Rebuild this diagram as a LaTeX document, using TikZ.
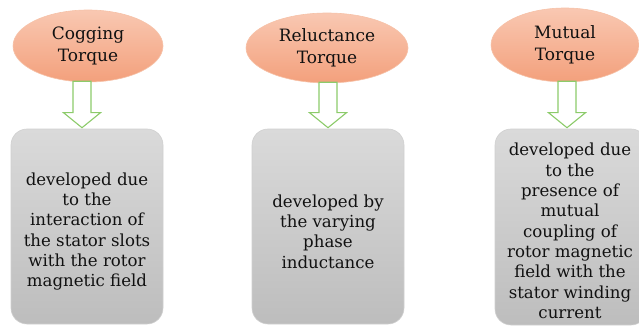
\documentclass[tikz,border=0pt]{standalone}
\usepackage{fontspec}
\setmainfont{DejaVu Serif}
\usetikzlibrary{shapes.geometric,calc}
\definecolor{elltop}{HTML}{F9C8B2}
\definecolor{ellbot}{HTML}{F3A07C}
\definecolor{ellline}{HTML}{F6C2A8}
\definecolor{boxtop}{HTML}{DADADA}
\definecolor{boxbot}{HTML}{BDBDBD}
\definecolor{boxline}{HTML}{D0D0D0}
\definecolor{arrgreen}{HTML}{8CCB6A}
\definecolor{txt}{HTML}{111111}
\begin{document}
\begin{tikzpicture}[x=1pt,y=-1pt,
  torque/.style={ellipse, inner sep=0pt, top color=elltop, bottom color=ellbot,
    draw=ellline, line width=0.6pt, align=center,
    font=\rmfamily\fontsize{17}{22}\selectfont, text=txt},
  descbox/.style={rectangle, rounded corners=16pt, top color=boxtop, bottom color=boxbot,
    draw=boxline, line width=0.6pt, inner sep=0pt},
  desctext/.style={align=center, font=\rmfamily\fontsize{16.6}{20.3}\selectfont, text=txt, inner sep=0pt},
  blockarrow/.style={draw=arrgreen, fill=white, line width=1.1pt, line join=miter}]
\useasboundingbox (0,0) rectangle (639,326);
\clip (0,0) rectangle (639,326);
% ellipses
\node[torque, minimum width=150pt, minimum height=72pt] (e1) at (88,46) {Cogging\\Torque};
\node[torque, minimum width=162pt, minimum height=70pt] (e2) at (327,48) {Reluctance\\Torque};
\node[torque, minimum width=148pt, minimum height=74pt] (e3) at (565,45) {Mutual\\Torque};
% boxes
\node[descbox, minimum width=152pt, minimum height=195pt] (b1) at (87,226.5) {};
\node[descbox, minimum width=152pt, minimum height=195pt] (b2) at (328,226.5) {};
\node[descbox, minimum width=152pt, minimum height=196pt] (b3) at (571,227) {};
% texts
\node[desctext] (t1) at ($(b1.center)+(0,5)$) {developed due\\to the\\interaction of\\the stator slots\\with the rotor\\magnetic field};
\node[desctext] (t2) at ($(b2.center)+(0,5)$) {developed by\\the varying\\phase\\inductance};
\node[desctext] (t3) at ($(b3.center)+(-1,4)$) {developed due\\to the\\presence of\\mutual\\coupling of\\rotor magnetic\\field with the\\stator winding\\current};
% arrow anchors
\coordinate (s1) at ($(e1.south)+(-6,-1)$);
\coordinate (p1) at ($(b1.north)+(-5,-1)$);
\coordinate (s2) at ($(e2.south)+(0.5,-1)$);
\coordinate (p2) at ($(b2.north)+(0,-1)$);
\coordinate (s3) at ($(e3.south)+(2,-1)$);
\coordinate (p3) at ($(b3.north)+(-4,-1)$);
% block arrows
\foreach \s/\p in {s1/p1,s2/p2,s3/p3}{
  \draw[blockarrow] ($(\s)+(-9,0)$) -- ($(\p |- \s)+(-9,0)$) -- ($(\p)+(-9,-15)$) -- ($(\p)+(-18.5,-15)$)
    -- (\p) -- ($(\p)+(18.5,-15)$) -- ($(\p)+(9,-15)$) -- ($(\p |- \s)+(9,0)$) -- ($(\s)+(9,0)$) -- cycle;
}
\end{tikzpicture}
\end{document}
